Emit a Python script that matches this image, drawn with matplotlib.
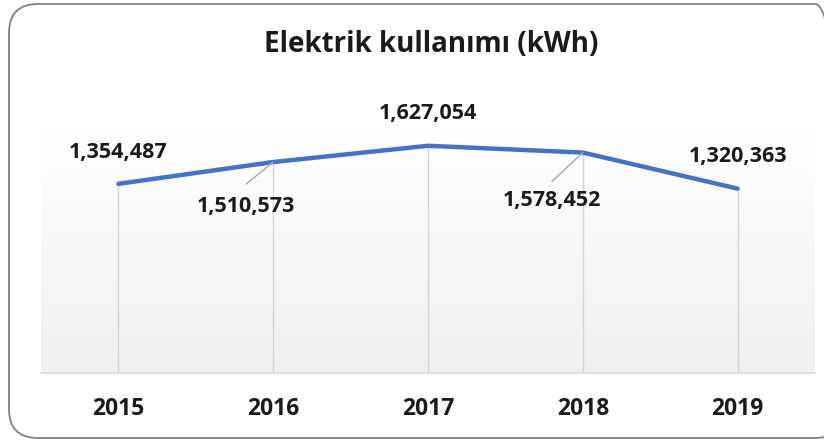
import matplotlib
matplotlib.use("Agg")
import matplotlib.pyplot as plt
import numpy as np
from matplotlib.patches import FancyBboxPatch

years = ["2015", "2016", "2017", "2018", "2019"]
values = [1354487, 1510573, 1627054, 1578452, 1320363]
labels = ["1,354,487", "1,510,573", "1,627,054", "1,578,452", "1,320,363"]

plt.rcParams['font.family'] = ['Open Sans', 'DejaVu Sans']

W, H = 824, 442
fig = plt.figure(figsize=(W/100, H/100), dpi=100)
fig.patch.set_facecolor('white')

# rounded border
border = FancyBboxPatch((9/W, 4/H), (W + 20 - 9)/W, (H - 8)/H,
                        boxstyle="round,pad=0,rounding_size=0.035",
                        transform=fig.transFigure, facecolor='none',
                        edgecolor='#808080', linewidth=1.3, clip_on=False,
                        mutation_aspect=W/H)
fig.patches.append(border)

ax = fig.add_axes([41/W, 69/H, 774/W, 243/H])
x = np.arange(len(years))
ax.set_xlim(-0.5, len(years) - 0.5)
ax.set_ylim(0, 1740000)

# gradient background
top = np.array([1.0, 1.0, 1.0])
bot = np.array([0xf0, 0xf0, 0xf0]) / 255
img = np.linspace(0, 1, 256)[:, None, None] * (top - bot) + bot
ax.imshow(img, extent=[-0.5, len(years) - 0.5, 0, 1740000],
          aspect='auto', origin='lower', zorder=0)
ax.set_facecolor('none')

# drop lines
for xi, v in zip(x, values):
    ax.plot([xi, xi], [0, v], color='#d4d4d4', lw=1.0, zorder=1)

ax.plot(x, values, color='#4472C4', lw=3.2, zorder=3, solid_capstyle='round')

offsets = [(0, 31), (-27, -44), (0, 32), (-31, -48), (0, 32)]
for xi, v, lab, (dx, dy) in zip(x, values, labels, offsets):
    ax.annotate(lab, (xi, v), xytext=(dx, dy), textcoords='offset pixels',
                ha='center', va='center', fontsize=15.5, fontweight='bold',
                color='#1a1a1a', zorder=5)

leaders = {1: (-27, -22), 3: (-31, -29)}
for i, (dx, dy) in leaders.items():
    ax.annotate('', (x[i], values[i]), xytext=(dx, dy), textcoords='offset pixels',
                arrowprops=dict(arrowstyle='-', color='#a6a6a6', lw=1.0,
                                shrinkA=0, shrinkB=0), zorder=4)

for s in ['top', 'left', 'right']:
    ax.spines[s].set_visible(False)
ax.spines['bottom'].set_color('#d9d9d9')
ax.spines['bottom'].set_linewidth(1.2)
ax.set_yticks([])
ax.set_xticks(x)
ax.set_xticklabels(years, fontsize=16.5, fontweight='bold', color='#1a1a1a')
ax.tick_params(axis='x', length=0, pad=17)

fig.text(431/W, 1 - 45/H, "Elektrik kullanımı (kWh)", ha='center', va='center',
         fontsize=20, fontweight='bold', color='#1a1a1a')

fig.savefig('out.png', dpi=100, facecolor='white')
